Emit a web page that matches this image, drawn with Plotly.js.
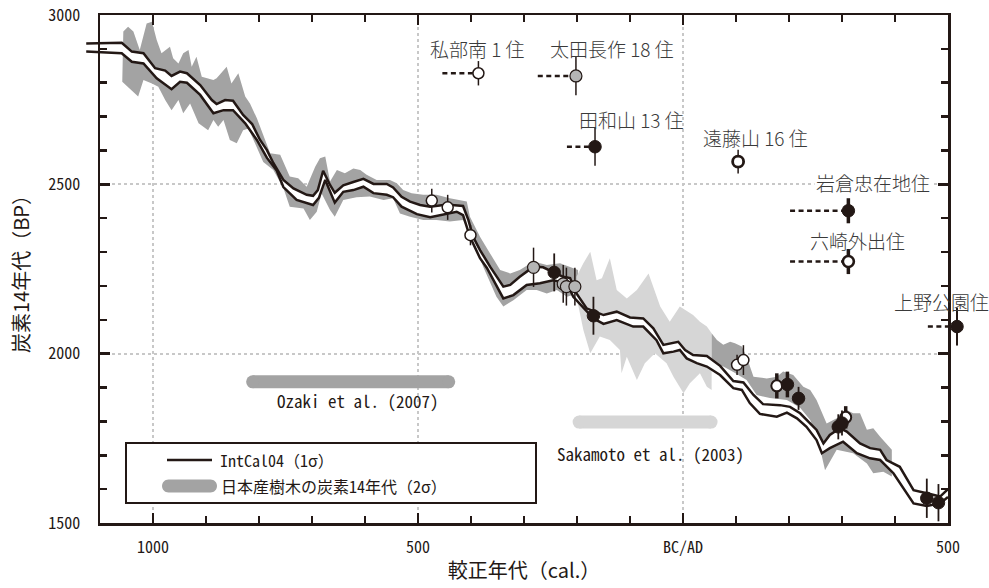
<!DOCTYPE html>
<html><head><meta charset="utf-8">
<script src="https://cdn.plot.ly/plotly-3.0.1.min.js"></script>
<style>html,body{margin:0;padding:0;background:#fff;} #chart{width:989px;height:588px;}</style>
</head><body><div id="chart"></div>
<script>
// ---------------- DATA (calibrated year: negative = BC; radiocarbon age BP) ----------------
// IntCal04 1-sigma envelope, upper and lower edges
const intcalUpperYear = [-1126,-1059,-1040,-1018,-996,-977,-965,-949,-936,-911,-889,-880,-864,-849,-830,-813,-798,-785,-773,-754,-735,-710,-698,-689,-679,-666,-657,-641,-622,-603,-584,-559,-547,-531,-515,-496,-477,-452,-436,-415,-405,-396,-383,-364,-339,-326,-308,-282,-264,-245,-226,-213,-201,-182,-150,-125,-100,-75,-56,-37,-21,-9,4,19,45,70,95,114,133,151,183,202,221,233,252,265,277,296,309,334,353,372,384,409,435,460,485,500];
const intcalUpperBP = [2916,2918,2892,2887,2843,2836,2820,2833,2828,2793,2749,2737,2749,2747,2705,2678,2631,2601,2563,2513,2488,2469,2466,2483,2540,2498,2475,2497,2507,2516,2501,2501,2491,2463,2449,2439,2434,2439,2439,2436,2395,2345,2306,2257,2198,2203,2227,2257,2255,2242,2227,2223,2178,2134,2114,2124,2107,2104,2075,2026,2031,2035,2011,1996,1993,1964,1919,1915,1878,1851,1848,1843,1824,1804,1775,1735,1760,1780,1770,1735,1721,1716,1686,1666,1597,1588,1578,1600];
const intcalLowerYear = [-1126,-1059,-1040,-1018,-993,-965,-949,-936,-911,-886,-867,-849,-826,-804,-785,-767,-754,-729,-698,-687,-675,-657,-641,-622,-603,-584,-559,-547,-531,-502,-477,-452,-427,-415,-402,-383,-370,-339,-320,-295,-270,-245,-219,-207,-169,-150,-125,-94,-75,-50,-37,-18,-6,7,26,45,70,95,111,126,145,177,196,215,233,252,262,277,302,328,353,372,397,435,460,485,500];
const intcalLowerBP = [2892,2887,2862,2857,2813,2781,2803,2800,2764,2710,2719,2719,2680,2631,2578,2542,2492,2454,2439,2460,2513,2446,2478,2483,2493,2474,2469,2462,2434,2412,2403,2412,2419,2409,2345,2282,2253,2163,2173,2203,2208,2217,2208,2168,2104,2088,2099,2080,2080,2040,2001,2006,2011,1986,1972,1962,1937,1898,1893,1854,1822,1814,1826,1809,1784,1745,1706,1721,1740,1706,1691,1686,1647,1558,1550,1558,1577];

// Japanese tree-ring 14C (2 sigma) — Ozaki et al. (2007)
const ozakiUpperYear = [-1058,-1056,-1047,-1037,-1025,-1012,-1002,-993,-984,-968,-962,-952,-943,-933,-927,-918,-908,-886,-880,-861,-852,-839,-826,-817,-804,-779,-760,-742,-726,-710,-694,-685,-675,-666,-653,-638,-622,-609,-597,-578,-553,-540,-528,-512,-490,-465,-440,-421,-408,-402,-383,-364,-345,-326,-308,-282,-257,-232,-213,-198];
const ozakiUpperBP = [2803,2951,2965,2951,2897,2975,2980,2926,2887,2906,2872,2857,2887,2897,2847,2877,2818,2808,2813,2847,2798,2828,2759,2739,2695,2592,2587,2523,2518,2493,2552,2577,2582,2508,2542,2533,2547,2542,2528,2513,2513,2503,2483,2474,2469,2469,2459,2454,2449,2404,2345,2296,2247,2237,2247,2272,2262,2267,2257,2247];
const ozakiLowerYear = [-1058,-1028,-1018,-1002,-990,-977,-965,-952,-943,-930,-914,-896,-886,-877,-867,-855,-842,-830,-820,-792,-773,-754,-742,-716,-704,-691,-682,-666,-657,-641,-616,-591,-565,-547,-534,-515,-490,-465,-440,-415,-399,-377,-352,-339,-320,-295,-276,-257,-238,-219,-198];
const ozakiLowerBP = [2803,2759,2808,2798,2788,2749,2719,2749,2710,2739,2680,2660,2690,2670,2690,2631,2621,2660,2665,2566,2542,2489,2434,2429,2395,2419,2474,2424,2404,2454,2462,2464,2454,2459,2414,2404,2395,2395,2390,2395,2345,2257,2168,2139,2158,2188,2188,2178,2188,2168,2178];

// Sakamoto et al. (2003)
const sakUpperYear = [-201,-188,-175,-163,-153,-138,-125,-106,-87,-65,-43,-25,-6,19,32,45,54];
const sakUpperBP = [2227,2267,2301,2217,2223,2282,2188,2163,2188,2237,2139,2094,2139,2114,2094,2080,2060];
const sakLowerYear = [-201,-188,-175,-157,-138,-119,-116,-106,-87,-72,-53,-31,-18,1,13,32,45,54];
const sakLowerBP = [2168,2070,2001,2051,2040,2011,1942,1991,1922,1972,2001,1972,1932,1883,1913,1942,1902,1893];

// Japanese tree-ring 14C, AD part
const adUpperYear = [54,64,76,89,98,111,120,133,158,177,189,208,227,240,252,271,290,309,321,334,347,359,372,384,394];
const adUpperBP = [2060,2040,2026,2035,2031,2021,1991,1932,1927,1932,1947,1937,1902,1893,1863,1794,1809,1834,1824,1824,1775,1780,1755,1735,1716];
const adLowerYear = [54,76,95,120,139,164,196,221,240,255,268,290,321,347,359,378,394];
const adLowerBP = [1967,1962,1946,1922,1878,1869,1863,1840,1804,1745,1656,1716,1706,1676,1647,1651,1637];

// Reference source bars
const ozakiBarYear = [-812, -442];
const ozakiBarBP = [1917, 1917];
const sakBarYear = [-196, 53];
const sakBarBP = [1798, 1798];

// Samples plotted on the curve
const openYear = [-474, -444, -401, 102, 114, 177, 307];
const openBP = [2452, 2432, 2350, 1967, 1981, 1905, 1812];
const openErr = [35, 37, 30, 30, 44, 37, 33];
const grayYear = [-282, -226, -220, -204];
const grayBP = [2255, 2206, 2198, 2198];
const grayErr = [58, 56, 56, 56];
const blackYear = [-243, -169, 197, 218, 293, 300, 460, 482];
const blackBP = [2240, 2112, 1909, 1868, 1784, 1795, 1573, 1560];
const blackErr = [56, 56, 38, 34, 37, 37, 58, 55];

// Labelled sites (dashed line = older possible range)
const siteName = ['私部南 1 住','太田長作 18 住','田和山 13 住','遠藤山 16 住','岩倉忠在地住','六崎外出住','上野公園住'];
const siteKind = ['open','gray','black','open','black','open','black'];
const siteYear = [-386, -202, -166, 104, 312, 312, 517];
const siteBP = [2828, 2820, 2611, 2567, 2422, 2272, 2080];
const siteErr = [36, 57, 56, 35, 37, 37, 56];
const siteDashFrom = [-454, -274, -219, null, 202, 202, 462];

// Axis ticks
const xMajor = [-1000, -500, 0, 500];
const xMajorText = ['1000', '500', 'BC/AD', '500'];
const yMajor = [1500, 2000, 2500, 3000];

// ---------------- STYLE / LAYOUT ----------------
const INK = '#231815';
const DARK = '#a3a3a3';
const LIGHT = '#d6d6d6';
const GRAYPT = '#b5b5b5';
const MONO = "'Noto Sans Mono CJK JP', 'DejaVu Sans Mono', monospace";
const CJK = "'Noto Sans CJK JP', 'Noto Sans', sans-serif";
const openThick = [0,0,0,0,0,1,1];
const blackThick = [0,0,1,0,0,0,0,0];
const siteErrW = [1.5,1.5,1.5,1.5,3.5,3.5,2];
const siteRingW = [1.5,1.2,1,2.8,1,2.6,1];
const siteLabelPx = [[477,48],[612,48],[631,120],[755,137],[873,183],[857,240],[941,301]];

const W = 989, H = 588, ML = 85, MR = 1, MT = 15, MB = 65;
const PW = W - ML - MR, PH = H - MT - MB;
const FL = 100, FR = 948;
const px = x => (x - ML) / PW;
const py = y => (H - MB - y) / PH;
const yrPerPx = 1600 / (FR - FL);
const x2range = [-1100 - (FL - ML) * yrPerPx, 500 + (W - MR - FR) * yrPerPx];

const xMinor = [], yMinor = [];
for (let v = -1100; v <= 500; v += 100) if (!xMajor.includes(v)) xMinor.push(v);
for (let v = 1500; v <= 3000; v += 100) if (!yMajor.includes(v)) yMinor.push(v);

function poly(ux, uy, lx, ly) {
  return { x: ux.concat(lx.slice().reverse()), y: uy.concat(ly.slice().reverse()) };
}
function band(p, color) {
  return { type: 'scatter', mode: 'lines', x: p.x, y: p.y, fill: 'toself', fillcolor: color,
           line: { width: 0, color: color }, hoverinfo: 'skip', showlegend: false, xaxis: 'x', yaxis: 'y' };
}
const traces = [];
traces.push(band(poly(ozakiUpperYear, ozakiUpperBP, ozakiLowerYear, ozakiLowerBP), DARK));
traces.push(band(poly(sakUpperYear, sakUpperBP, sakLowerYear, sakLowerBP), LIGHT));
traces.push(band(poly(adUpperYear, adUpperBP, adLowerYear, adLowerBP), DARK));
traces.push(band(poly(intcalUpperYear, intcalUpperBP, intcalLowerYear, intcalLowerBP), '#ffffff'));

function refBar(xs, ys, color) {
  return { type: 'scatter', mode: 'lines+markers', x: xs, y: ys, line: { color: color, width: 13 },
           marker: { color: color, size: 13, line: { width: 0 } }, hoverinfo: 'skip', showlegend: false };
}
traces.push(refBar(ozakiBarYear, ozakiBarBP, DARK));
traces.push(refBar(sakBarYear, sakBarBP, LIGHT));

// curve edges (on the wide overlay subplot so they may pass the frame)
traces.push({ type: 'scatter', mode: 'lines', x: intcalUpperYear, y: intcalUpperBP, line: { color: INK, width: 2.5 },
              xaxis: 'x2', yaxis: 'y2', hoverinfo: 'skip', showlegend: false });
traces.push({ type: 'scatter', mode: 'lines', x: intcalLowerYear, y: intcalLowerBP, line: { color: INK, width: 2.5 },
              xaxis: 'x2', yaxis: 'y2', hoverinfo: 'skip', showlegend: false });

// dashed ranges
const dx = [], dy = [];
siteYear.forEach((yr, i) => { if (siteDashFrom[i] !== null) { dx.push(siteDashFrom[i], yr, null); dy.push(siteBP[i], siteBP[i], null); } });
traces.push({ type: 'scatter', mode: 'lines', x: dx, y: dy, line: { color: INK, width: 2.5, dash: '5px,3.5px' },
              xaxis: 'x2', yaxis: 'y2', hoverinfo: 'skip', showlegend: false, connectgaps: false });

const kindStyle = {
  open:  { color: '#ffffff', size: 11 },
  gray:  { color: GRAYPT, size: 12 },
  black: { color: INK, size: 12.5 }
};
function pts(xs, ys, es, kind, errW, ringW) {
  const s = kindStyle[kind];
  return { type: 'scatter', mode: 'markers', x: xs, y: ys, xaxis: 'x2', yaxis: 'y2',
           error_y: { type: 'data', array: es, visible: true, color: INK, thickness: errW, width: 0 },
           marker: { color: s.color, size: s.size, line: { color: INK, width: ringW } },
           hoverinfo: 'skip', showlegend: false };
}
function pick(arr, flags, v) { return arr.filter((_, i) => flags[i] === v); }
traces.push(pts(pick(openYear, openThick, 0), pick(openBP, openThick, 0), pick(openErr, openThick, 0), 'open', 1.5, 1.5));
traces.push(pts(pick(openYear, openThick, 1), pick(openBP, openThick, 1), pick(openErr, openThick, 1), 'open', 3.5, 2));
traces.push(pts(grayYear, grayBP, grayErr, 'gray', 1.5, 1.2));
traces.push(pts(pick(blackYear, blackThick, 0), pick(blackBP, blackThick, 0), pick(blackErr, blackThick, 0), 'black', 1.8, 1));
traces.push(pts(pick(blackYear, blackThick, 1), pick(blackBP, blackThick, 1), pick(blackErr, blackThick, 1), 'black', 3.5, 1));
siteYear.forEach((yr, i) => {
  traces.push(pts([yr], [siteBP[i]], [siteErr[i]], siteKind[i], siteErrW[i], siteRingW[i]));
});

function roundBar(len, h) {
  const r = h / 2, a = len / 2 - r, k = 0.5523 * r;
  return `M${-a},${r} L${a},${r} C${a + k},${r} ${a + r},${k} ${a + r},0 C${a + r},${-k} ${a + k},${-r} ${a},${-r} ` +
         `L${-a},${-r} C${-a - k},${-r} ${-a - r},${-k} ${-a - r},0 C${-a - r},${k} ${-a - k},${r} ${-a},${r} Z`;
}

const shapes = [
  { type: 'rect', xref: 'paper', yref: 'paper', x0: px(126), x1: px(536), y0: py(443), y1: py(503),
    line: { color: INK, width: 2 }, fillcolor: '#ffffff', layer: 'above' },
  { type: 'line', xref: 'paper', yref: 'paper', x0: px(167), x1: px(212), y0: py(460), y1: py(460),
    line: { color: INK, width: 2.5 }, layer: 'above' },
  { type: 'path', xref: 'paper', yref: 'paper', xsizemode: 'pixel', ysizemode: 'pixel',
    xanchor: px(189.5), yanchor: py(486), path: roundBar(55, 13), fillcolor: DARK, line: { width: 0 }, layer: 'above' }
];

const annotations = [
  { xref: 'paper', yref: 'paper', x: px(218), y: py(460), xanchor: 'left', yanchor: 'middle', showarrow: false,
    text: 'IntCal04（1σ）', font: { family: MONO, size: 16, color: INK } },
  { xref: 'paper', yref: 'paper', x: px(219), y: py(486), xanchor: 'left', yanchor: 'middle', showarrow: false,
    text: '日本産樹木の炭素14年代（2σ）', font: { family: MONO, size: 16, color: INK } },
  { xref: 'paper', yref: 'paper', x: px(358), y: py(400), xanchor: 'center', yanchor: 'middle', showarrow: false,
    text: 'Ozaki et al. (2007)', font: { family: MONO, size: 17, color: INK } },
  { xref: 'paper', yref: 'paper', x: px(650), y: py(453), xanchor: 'center', yanchor: 'middle', showarrow: false,
    text: 'Sakamoto et al. (2003)', font: { family: MONO, size: 17, color: INK } }
];
siteName.forEach((name, i) => {
  annotations.push({ xref: 'paper', yref: 'paper', x: px(siteLabelPx[i][0]), y: py(siteLabelPx[i][1]),
    xanchor: 'center', yanchor: 'middle', showarrow: false, text: name,
    bgcolor: i === 4 ? '#ffffff' : 'rgba(0,0,0,0)',
    font: { family: CJK, size: 19, color: '#3a3a3a', weight: 300 } });
});

const axisCommon = {
  showline: true, linecolor: INK, linewidth: 2.5, mirror: 'ticks',
  ticks: 'inside', ticklen: 10, tickwidth: 2.5, tickcolor: INK,
  showgrid: true, gridcolor: '#c8c8c8', gridwidth: 2, griddash: 'dot', zeroline: false,
  tickfont: { family: MONO, size: 16, color: INK }
};

const layout = {
  width: W, height: H, margin: { l: ML, r: MR, t: MT, b: MB, pad: 0 },
  paper_bgcolor: '#ffffff', plot_bgcolor: 'rgba(0,0,0,0)', showlegend: false,
  font: { family: MONO, color: INK },
  xaxis: Object.assign({}, axisCommon, {
    domain: [px(FL), px(FR)], range: [-1100, 500], anchor: 'y',
    tickmode: 'array', tickvals: xMajor, ticktext: xMajorText, ticklabelstandoff: 8,
    minor: { tickmode: 'array', tickvals: xMinor, ticks: 'inside', ticklen: 7, tickwidth: 2.5, tickcolor: INK },
    title: { text: '較正年代（cal.）', font: { family: CJK, size: 20, color: INK }, standoff: 8 }
  }),
  yaxis: Object.assign({}, axisCommon, {
    domain: [0, 1], range: [1500, 3000], anchor: 'x',
    tickmode: 'array', tickvals: yMajor, ticktext: yMajor.map(String), ticklabelstandoff: 14,
    minor: { tickmode: 'array', tickvals: yMinor, ticks: 'inside', ticklen: 7, tickwidth: 2.5, tickcolor: INK },
    title: { text: '炭素14年代（BP）', font: { family: CJK, size: 20, color: INK }, standoff: 14 }
  }),
  xaxis2: { domain: [0, 1], range: x2range, anchor: 'y2', visible: false },
  yaxis2: { domain: [0, 1], range: [1500, 3000], anchor: 'x2', visible: false },
  shapes: shapes, annotations: annotations
};

Plotly.newPlot('chart', traces, layout, { displayModeBar: false, staticPlot: true });
</script>
</body></html>
